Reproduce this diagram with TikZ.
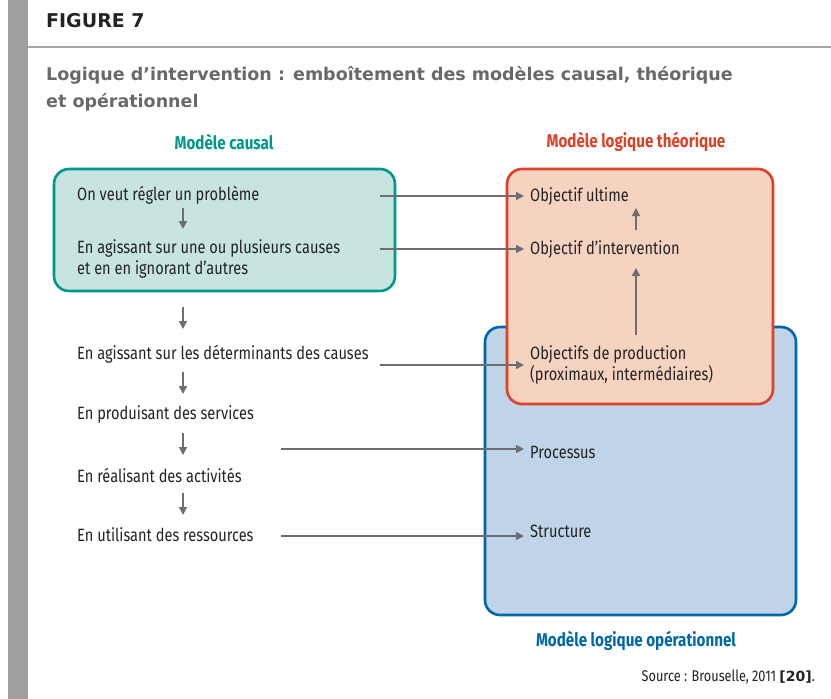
\documentclass[tikz,border=0pt]{standalone}
\usepackage{fontspec}
\setmainfont{Fira Sans}[FakeStretch=0.82]
\newfontfamily\headfont{DejaVu Sans}
\usetikzlibrary{arrows.meta}
\definecolor{teal1}{RGB}{0,152,140}
\definecolor{tealfill}{RGB}{199,228,224}
\definecolor{red1}{RGB}{222,66,38}
\definecolor{redfill}{RGB}{246,210,192}
\definecolor{blue1}{RGB}{0,104,168}
\definecolor{bluefill}{RGB}{191,212,232}
\definecolor{arrgray}{RGB}{110,110,114}
\definecolor{txt}{RGB}{35,35,35}
\definecolor{titlegray}{RGB}{105,105,108}
\tikzset{
  txt/.style={anchor=west, inner sep=0pt, text=txt, font=\fontsize{17.8}{21}\selectfont, align=left},
  head/.style={font=\bfseries\fontsize{18.5}{20}\selectfont, inner sep=0pt},
  arr/.style={draw=arrgray, line width=1.6pt, -{Triangle[length=8pt,width=8pt]}},
  box/.style={line width=2.6pt, rounded corners=15pt}
}
\begin{document}
\begin{tikzpicture}[x=1pt,y=-1pt]
    \useasboundingbox (0,0) rectangle (831,699);
    % bandeau
    \fill [gray!75] (8,0) rectangle (28,699);
    \draw [gray!70, line width=1.5pt] (28,47) -- (831,47);
    \node [anchor=west, inner sep=0pt, text=txt, font=\headfont\bfseries\fontsize{19}{22}\selectfont] (fig) at (46,21) {FIGURE 7};
    \node [anchor=north west, inner sep=0pt, text=titlegray, align=left,
           font=\headfont\bfseries\fontsize{17.5}{27}\selectfont] (titre) at (46,66)
      {Logique d’intervention : emboîtement des modèles causal, théorique\\et opérationnel};
    % cadres
    \filldraw [box, draw=blue1, fill=bluefill] (485,327) rectangle (796,615);
    \filldraw [box, draw=red1, fill=redfill] (507,169) rectangle (773,404);
    \filldraw [box, draw=teal1, fill=tealfill] (54,169) rectangle (395,291);
    \node [head, text=teal1] (mc) at (224,142) {Modèle causal};
    \node [head, text=red1] (mt) at (636,142) {Modèle logique théorique};
    \node [head, text=blue1] (mo) at (636,641) {Modèle logique opérationnel};
    % modele causal
    \node [txt] (c1) at (77,195) {On veut régler un problème};
    \node [txt] (c2) at (77,259) {En agissant sur une ou plusieurs causes\\et en en ignorant d’autres};
    \node [txt] (c3) at (77,354) {En agissant sur les déterminants des causes};
    \node [txt] (c4) at (77,414) {En produisant des services};
    \node [txt] (c5) at (77,475) {En réalisant des activités};
    \node [txt] (c6) at (77,535) {En utilisant des ressources};
    % objectifs
    \node [txt] (o1) at (530,196) {Objectif ultime};
    \node [txt] (o2) at (530,249) {Objectif d’intervention};
    \node [txt] (o3) at (530,365) {Objectifs de production\\(proximaux, intermédiaires)};
    \node [txt] (o4) at (530,452) {Processus};
    \node [txt] (o5) at (530,531) {Structure};
    \coordinate (dx) at (183,0);
    \coordinate (ux) at (636,0);
    \coordinate (xa) at (380,0);
    \coordinate (xb) at (281,0);
    % fleches verticales
    \draw [arr] (dx |- 0,208) -- (dx |- 0,229);
    \draw [arr] (dx |- 0,307) -- (dx |- 0,329);
    \draw [arr] (dx |- 0,372) -- (dx |- 0,394);
    \draw [arr] (dx |- 0,433) -- (dx |- 0,455);
    \draw [arr] (dx |- 0,493) -- (dx |- 0,515);
    \draw [arr] (ux |- 0,230) -- (ux |- 0,208);
    \draw [arr] (ux |- 0,335) -- (ux |- 0,268);
    % fleches horizontales
    \draw [arr, shorten >=6pt] (o1.west -| xa) -- (o1.west);
    \draw [arr, shorten >=6pt] (o2.west -| xa) -- (o2.west);
    \draw [arr, shorten >=6pt] (o3.west -| xa) -- (o3.west);
    \draw [arr, shorten >=6pt] ([yshift=3pt]o4.west -| xb) -- ([yshift=3pt]o4.west);
    \draw [arr, shorten >=6pt] ([yshift=-5pt]o5.west -| xb) -- ([yshift=-5pt]o5.west);
    \node [anchor=east, inner sep=0pt, text=txt, font=\fontsize{15.5}{16}\selectfont] (src) at (815,677)
      {Source : Brouselle, 2011 {\headfont\bfseries\fontsize{14}{16}\selectfont [20]}.};
  \end{tikzpicture}
\end{document}
